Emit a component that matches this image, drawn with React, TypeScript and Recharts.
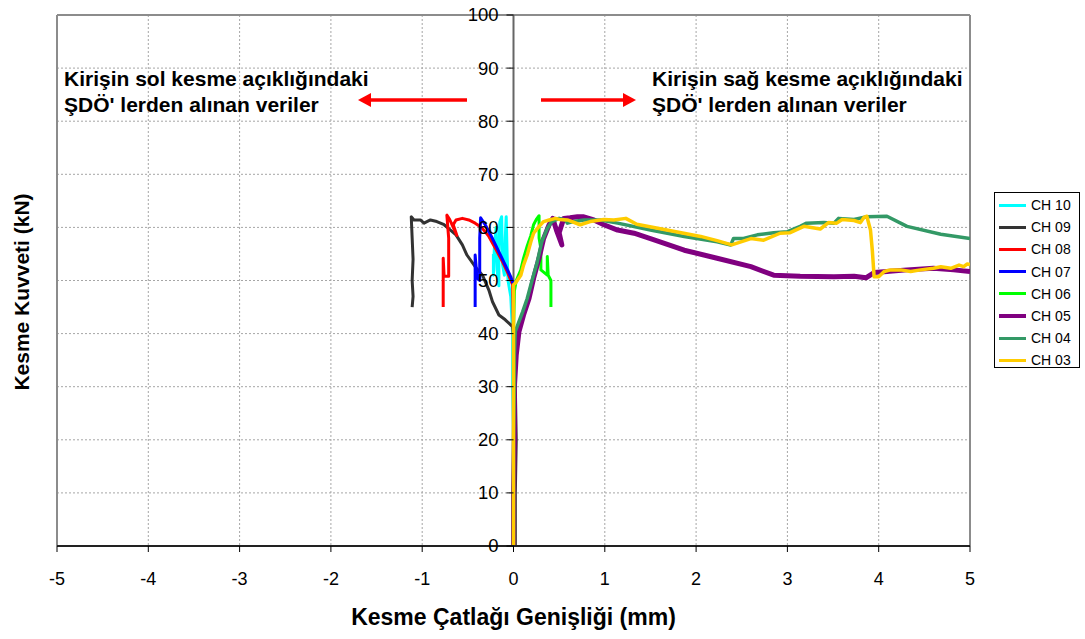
import React from 'react';
import { LineChart, Line, XAxis, YAxis, CartesianGrid, ReferenceLine } from 'recharts';

// kesme çatlağı genişliği (mm) / kesme kuvveti (kN) pairs
const ch10 = [
  { x: 0, y: 0 }, { x: 0, y: 10 }, { x: 0, y: 20 }, { x: -0.01, y: 30 }, { x: -0.01, y: 40 },
  { x: -0.03, y: 47 }, { x: -0.06, y: 50 }, { x: -0.07, y: 55 }, { x: -0.08, y: 62 }, { x: -0.09, y: 58 },
  { x: -0.1, y: 51 }, { x: -0.12, y: 53 }, { x: -0.13, y: 62 }, { x: -0.15, y: 61 }, { x: -0.16, y: 55 },
  { x: -0.16, y: 49 }, { x: -0.18, y: 52 }, { x: -0.19, y: 60 }, { x: -0.21, y: 56 }, { x: -0.22, y: 51 },
  { x: -0.22, y: 55 },
];

const ch09 = [
  { x: 0.02, y: 0 }, { x: 0.02, y: 10 }, { x: 0.03, y: 20 }, { x: 0.02, y: 30 }, { x: 0.01, y: 38 },
  { x: -0.01, y: 41.3 }, { x: -0.09, y: 42.6 }, { x: -0.16, y: 43.5 }, { x: -0.23, y: 46 }, { x: -0.27, y: 48.2 },
  { x: -0.34, y: 51 }, { x: -0.42, y: 52.6 }, { x: -0.51, y: 54.8 }, { x: -0.56, y: 56.7 }, { x: -0.63, y: 58.6 },
  { x: -0.69, y: 59.5 }, { x: -0.76, y: 60.5 }, { x: -0.84, y: 61.1 }, { x: -0.91, y: 61.4 }, { x: -0.98, y: 60.8 },
  { x: -1.02, y: 61.4 }, { x: -1.09, y: 61.4 }, { x: -1.12, y: 62 }, { x: -1.11, y: 58 }, { x: -1.1, y: 54 },
  { x: -1.11, y: 50 }, { x: -1.1, y: 47 }, { x: -1.11, y: 45 },
];

const ch08 = [
  { x: 0, y: 0 }, { x: 0, y: 10 }, { x: 0, y: 20 }, { x: 0, y: 30 }, { x: 0, y: 40 },
  { x: -0.01, y: 49.2 }, { x: -0.07, y: 51.7 }, { x: -0.12, y: 53.5 }, { x: -0.2, y: 56.1 }, { x: -0.27, y: 58.3 },
  { x: -0.35, y: 60 }, { x: -0.42, y: 60.8 }, { x: -0.49, y: 61.4 }, { x: -0.56, y: 61.7 }, { x: -0.63, y: 61.4 },
  { x: -0.66, y: 60.5 }, { x: -0.62, y: 58.5 }, { x: -0.66, y: 60 }, { x: -0.7, y: 61.5 }, { x: -0.73, y: 62.3 },
  { x: -0.71, y: 58 }, { x: -0.71, y: 54 }, { x: -0.71, y: 50.8 }, { x: -0.76, y: 50.8 }, { x: -0.77, y: 54.2 },
  { x: -0.77, y: 49 }, { x: -0.77, y: 45 },
];

const ch07 = [
  { x: 0, y: 0 }, { x: 0, y: 10 }, { x: 0, y: 20 }, { x: 0, y: 30 }, { x: 0, y: 40 },
  { x: 0, y: 49.2 }, { x: -0.03, y: 50.7 }, { x: -0.09, y: 52.9 }, { x: -0.16, y: 55.4 }, { x: -0.23, y: 57.9 },
  { x: -0.31, y: 60.5 }, { x: -0.36, y: 61.8 }, { x: -0.37, y: 58 }, { x: -0.37, y: 54 }, { x: -0.37, y: 50 },
  { x: -0.4, y: 50.5 }, { x: -0.42, y: 54.8 }, { x: -0.42, y: 50 }, { x: -0.42, y: 45 },
];

const ch06 = [
  { x: 0, y: 0 }, { x: 0, y: 10 }, { x: 0, y: 20 }, { x: 0, y: 30 }, { x: 0, y: 40 },
  { x: 0.01, y: 48 }, { x: 0.03, y: 50 }, { x: 0.08, y: 52 }, { x: 0.11, y: 54.2 }, { x: 0.15, y: 56.5 },
  { x: 0.19, y: 58.5 }, { x: 0.22, y: 60.5 }, { x: 0.25, y: 61.5 }, { x: 0.28, y: 62.2 }, { x: 0.28, y: 58 },
  { x: 0.3, y: 56 }, { x: 0.3, y: 52 }, { x: 0.37, y: 51 }, { x: 0.37, y: 54.5 }, { x: 0.38, y: 51 },
  { x: 0.41, y: 50 }, { x: 0.41, y: 45 },
];

const ch05 = [
  { x: 0, y: 0 }, { x: 0, y: 10 }, { x: 0.01, y: 20 }, { x: 0.01, y: 30 }, { x: 0.03, y: 36 },
  { x: 0.06, y: 40.4 }, { x: 0.11, y: 43.5 }, { x: 0.17, y: 46.6 }, { x: 0.22, y: 50.4 }, { x: 0.28, y: 54.2 },
  { x: 0.33, y: 57.9 }, { x: 0.39, y: 60.5 }, { x: 0.43, y: 61.7 }, { x: 0.47, y: 59.5 }, { x: 0.53, y: 56.7 },
  { x: 0.5, y: 59 }, { x: 0.55, y: 61.7 }, { x: 0.62, y: 61.8 }, { x: 0.7, y: 62 }, { x: 0.77, y: 62 },
  { x: 0.88, y: 61.4 }, { x: 0.99, y: 60.5 }, { x: 1.14, y: 59.5 }, { x: 1.32, y: 58.9 }, { x: 1.5, y: 57.9 },
  { x: 1.87, y: 55.7 }, { x: 2.23, y: 54.2 }, { x: 2.6, y: 52.6 }, { x: 2.85, y: 51 }, { x: 3.14, y: 50.8 },
  { x: 3.51, y: 50.7 }, { x: 3.73, y: 50.8 }, { x: 3.86, y: 50.5 }, { x: 3.95, y: 51.5 }, { x: 4.09, y: 51.7 },
  { x: 4.31, y: 52 }, { x: 4.6, y: 52.3 }, { x: 4.82, y: 52 }, { x: 5, y: 51.7 },
];

const ch04 = [
  { x: 0, y: 0 }, { x: 0, y: 10 }, { x: 0, y: 20 }, { x: 0.01, y: 30 }, { x: 0.01, y: 36 },
  { x: 0.02, y: 40.4 }, { x: 0.1, y: 44.1 }, { x: 0.15, y: 46.6 }, { x: 0.2, y: 49.8 }, { x: 0.26, y: 53.5 },
  { x: 0.31, y: 57.3 }, { x: 0.37, y: 59.8 }, { x: 0.42, y: 61.1 }, { x: 0.5, y: 61.7 }, { x: 0.57, y: 61.4 },
  { x: 0.59, y: 60.8 }, { x: 0.66, y: 61.1 }, { x: 0.77, y: 61.4 }, { x: 0.95, y: 61.4 }, { x: 1.14, y: 60.8 },
  { x: 1.5, y: 59.5 }, { x: 1.87, y: 58.3 }, { x: 2.23, y: 57.3 }, { x: 2.38, y: 56.7 }, { x: 2.41, y: 57.9 },
  { x: 2.52, y: 57.9 }, { x: 2.67, y: 58.6 }, { x: 2.85, y: 59 }, { x: 3, y: 59.2 }, { x: 3.14, y: 60.2 },
  { x: 3.21, y: 60.8 }, { x: 3.4, y: 60.9 }, { x: 3.51, y: 60.8 }, { x: 3.56, y: 61.7 }, { x: 3.73, y: 61.5 },
  { x: 3.87, y: 62 }, { x: 4.09, y: 62.1 }, { x: 4.31, y: 60.2 }, { x: 4.68, y: 58.7 }, { x: 5, y: 57.9 },
];

const ch03 = [
  { x: 0, y: 0 }, { x: 0, y: 10 }, { x: 0, y: 20 }, { x: 0, y: 30 }, { x: 0, y: 40 },
  { x: 0, y: 49.2 }, { x: 0.02, y: 49.5 }, { x: 0.08, y: 51 }, { x: 0.11, y: 52.9 }, { x: 0.15, y: 54.8 },
  { x: 0.19, y: 57.3 }, { x: 0.22, y: 58.9 }, { x: 0.28, y: 60.2 }, { x: 0.33, y: 61.1 }, { x: 0.39, y: 61.4 },
  { x: 0.46, y: 61.7 }, { x: 0.5, y: 61.5 }, { x: 0.59, y: 61.4 }, { x: 0.73, y: 60.5 }, { x: 0.84, y: 61.1 },
  { x: 0.99, y: 61.5 }, { x: 1.1, y: 61.4 }, { x: 1.23, y: 61.7 }, { x: 1.35, y: 60.6 }, { x: 1.68, y: 59.5 },
  { x: 2.05, y: 58.3 }, { x: 2.23, y: 57.5 }, { x: 2.39, y: 56.7 }, { x: 2.6, y: 57.9 }, { x: 2.74, y: 57.6 },
  { x: 2.92, y: 58.9 }, { x: 3.03, y: 59 }, { x: 3.18, y: 60.2 }, { x: 3.36, y: 59.7 }, { x: 3.45, y: 60.9 },
  { x: 3.54, y: 60.8 }, { x: 3.6, y: 61.5 }, { x: 3.73, y: 61.3 }, { x: 3.8, y: 60.9 }, { x: 3.84, y: 61.9 },
  { x: 3.87, y: 62.1 }, { x: 3.91, y: 59.5 }, { x: 3.93, y: 55.7 }, { x: 3.95, y: 50.7 }, { x: 4, y: 50.7 },
  { x: 4.06, y: 51.7 }, { x: 4.13, y: 52 }, { x: 4.24, y: 52 }, { x: 4.35, y: 51.7 }, { x: 4.46, y: 52 },
  { x: 4.6, y: 52.3 }, { x: 4.68, y: 52.6 }, { x: 4.79, y: 52.3 }, { x: 4.88, y: 52.9 }, { x: 4.93, y: 52.6 },
  { x: 4.97, y: 53.1 }, { x: 5, y: 53 },
];

const xTicks = [-5, -4, -3, -2, -1, 0, 1, 2, 3, 4, 5];
const yTicks = [0, 10, 20, 30, 40, 50, 60, 70, 80, 90, 100];

const series = [
  { name: 'CH 10', data: ch10, color: '#00ffff', width: 3 },
  { name: 'CH 09', data: ch09, color: '#333333', width: 3 },
  { name: 'CH 08', data: ch08, color: '#ff0000', width: 3 },
  { name: 'CH 07', data: ch07, color: '#0000ff', width: 3 },
  { name: 'CH 06', data: ch06, color: '#00ff00', width: 3 },
  { name: 'CH 05', data: ch05, color: '#800080', width: 5 },
  { name: 'CH 04', data: ch04, color: '#339966', width: 3.5 },
  { name: 'CH 03', data: ch03, color: '#ffcc00', width: 3.5 },
];

const W = 1085;
const H = 639;
const yAxisW = 1;
const margin = { top: 15, right: 115, bottom: 63, left: 57 - yAxisW };
const plotLeft = margin.left + yAxisW;
const plotW = W - plotLeft - margin.right;
const axisX = plotLeft + (plotW * (0 - xTicks[0])) / (xTicks[xTicks.length - 1] - xTicks[0]);
const font = "'Liberation Sans', Arial, sans-serif";

// y labels sit on the x=0 line, not on the left edge
const renderYTick = (props: any) => {
  const { y, payload } = props;
  return (
    <g>
      <line x1={axisX - 7} x2={axisX} y1={y} y2={y} stroke="#000" strokeWidth={1} />
      <text x={axisX - 15} y={y} dy="0.35em" textAnchor="end" fontSize={18.5} fill="#000" fontFamily={font}>
        {payload.value}
      </text>
    </g>
  );
};

const Arrow = ({ x1, x2, y }: { x1: number; x2: number; y: number }) => {
  const dir = x2 > x1 ? 1 : -1;
  const head = 13;
  return (
    <g>
      <line x1={x1} x2={x2 - dir * head} y1={y} y2={y} stroke="#ff0000" strokeWidth={3.5} />
      <polygon points={`${x2},${y} ${x2 - dir * head},${y - 7} ${x2 - dir * head},${y + 7}`} fill="#ff0000" />
    </g>
  );
};

const noteStyle: React.CSSProperties = {
  position: 'absolute',
  top: 66,
  fontFamily: font,
  fontWeight: 'bold',
  fontSize: 21,
  lineHeight: '26px',
  color: '#000',
  whiteSpace: 'nowrap',
};

export default function App() {
  return (
    <div style={{ position: 'absolute', left: 0, top: 0, width: W, height: H, background: '#fff', fontFamily: font }}>
      <LineChart width={W} height={H} margin={margin}>
        <CartesianGrid stroke="#a6a6a6" strokeDasharray="2 2" />
        <XAxis
          type="number"
          dataKey="x"
          domain={[-5, 5]}
          ticks={xTicks}
          allowDataOverflow
          height={30}
          stroke="#000"
          axisLine={{ stroke: '#222', strokeWidth: 2 }}
          tickLine={{ stroke: '#000' }}
          tickSize={6}
          tickMargin={20}
          tick={{ fontSize: 18, fill: '#000', fontFamily: font }}
        />
        <YAxis
          type="number"
          dataKey="y"
          domain={[0, 100]}
          ticks={yTicks}
          width={yAxisW}
          axisLine={false}
          tickLine={false}
          tick={renderYTick}
        />
        <ReferenceLine x={-5} stroke="#8c8c8c" strokeWidth={2} />
        <ReferenceLine x={5} stroke="#8c8c8c" strokeWidth={2} />
        <ReferenceLine y={100} stroke="#8c8c8c" strokeWidth={2} />
        <ReferenceLine x={0} stroke="#666" strokeWidth={2} />
        {series.map((s) => (
          <Line
            key={s.name}
            name={s.name}
            data={s.data}
            dataKey="y"
            type="linear"
            stroke={s.color}
            strokeWidth={s.width}
            strokeLinejoin="round"
            dot={false}
            activeDot={false}
            isAnimationActive={false}
          />
        ))}
      </LineChart>

      <svg width={W} height={H} style={{ position: 'absolute', left: 0, top: 0, pointerEvents: 'none' }}>
        <Arrow x1={467} x2={358} y={100} />
        <Arrow x1={541} x2={636} y={100} />
      </svg>

      <div style={{ ...noteStyle, left: 64 }}>
        Kirişin sol kesme açıklığındaki
        <br />
        ŞDÖ' lerden alınan veriler
      </div>
      <div style={{ ...noteStyle, left: 652 }}>
        Kirişin sağ kesme açıklığındaki
        <br />
        ŞDÖ' lerden alınan veriler
      </div>

      <div
        style={{
          position: 'absolute', left: 0, top: 603, width: 2 * axisX, textAlign: 'center',
          fontWeight: 'bold', fontSize: 23, lineHeight: '28px', color: '#000',
        }}
      >
        Kesme Çatlağı Genişliği (mm)
      </div>
      <div
        style={{
          position: 'absolute', left: 22, top: 292, transform: 'translate(-50%, -50%) rotate(-90deg)',
          fontWeight: 'bold', fontSize: 21, lineHeight: '26px', color: '#000', whiteSpace: 'nowrap',
        }}
      >
        Kesme Kuvveti (kN)
      </div>

      <div
        style={{
          position: 'absolute', left: 994, top: 192, width: 86, height: 176, boxSizing: 'border-box',
          border: '1px solid #000', background: '#fff', paddingTop: 1,
        }}
      >
        {series.map((s) => (
          <div key={s.name} style={{ display: 'flex', alignItems: 'center', height: 22.2 }}>
            <div style={{ width: 27, height: s.width > 4 ? 4 : 3, background: s.color, marginLeft: 4, marginRight: 5 }} />
            <span style={{ fontSize: 14, color: '#000' }}>{s.name}</span>
          </div>
        ))}
      </div>
    </div>
  );
}
